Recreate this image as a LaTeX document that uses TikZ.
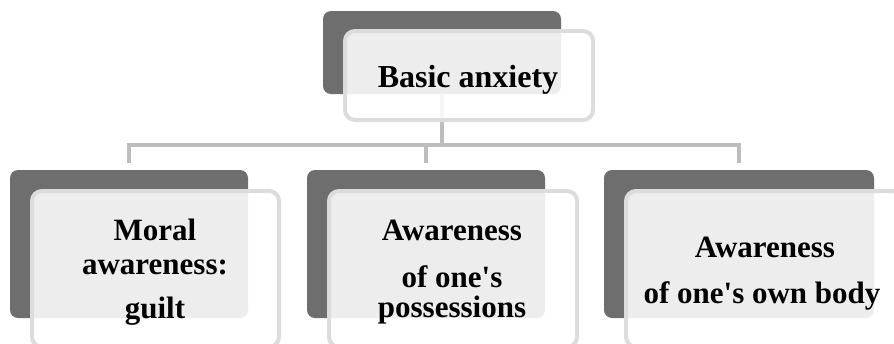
\documentclass[tikz,border=0pt]{standalone}
\usepackage{fontspec}
\setmainfont{Liberation Serif}
\definecolor{darkbox}{HTML}{6E6E6E}
\definecolor{connc}{HTML}{BDBDBD}
\definecolor{lightedge}{HTML}{DCDCDC}
\begin{document}
\begin{tikzpicture}[x=1pt,y=-1pt,
  darkbg/.style={rectangle, rounded corners=8pt, fill=darkbox, draw=none, inner sep=0pt, minimum width=#1},
  lightfg/.style={rectangle, rounded corners=10pt, fill=white, fill opacity=0.88, draw=lightedge, draw opacity=1, line width=4pt, inner sep=0pt, minimum width=#1},
  conn/.style={draw=connc, line width=4pt},
  txt/.style={font=\fontsize{32}{34}\selectfont\bfseries, inner sep=0pt, anchor=base, text=black},
  btxt/.style={txt, font=\fontsize{31}{33}\selectfont\bfseries}]
\useasboundingbox (0,0) rectangle (894,343);
% dark boxes
\node[darkbg=238pt, minimum height=83pt] (td) at (442,52.5) {};
\node[darkbg=238pt, minimum height=148pt] (d1) at (129,244) {};
\node[darkbg=238pt, minimum height=148pt] (d2) at (426,244) {};
\node[darkbg=270pt, minimum height=148pt] (d3) at (739,244) {};
% connectors
\coordinate (bus) at (0,145);
\draw[conn] (td.south) -- (td.south |- bus);
\draw[conn] (td.south |- bus) -| ([yshift=7pt]d1.north);
\draw[conn] (td.south |- bus) -| ([yshift=7pt]d3.north);
\draw[conn] (d2.north |- bus) -- ([yshift=7pt]d2.north);
% light boxes
\node[lightfg=248pt, minimum height=89pt] (tl) at (469,75.5) {};
\node[lightfg=247pt, minimum height=156pt] (l1) at (155.5,269) {};
\node[lightfg=248pt, minimum height=156pt] (l2) at (453,269) {};
\node[lightfg=276pt, minimum height=156pt] (l3) at (764,269) {};
% texts
\node[txt] (t0) at (468,87.5) {Basic anxiety};
\node[btxt] (t1a) at (155,240.5) {Moral};
\node[btxt] (t1b) at (155,274) {awareness:};
\node[btxt] (t1c) at (155,318) {guilt};
\node[btxt] (t2a) at (452,240.5) {Awareness};
\node[btxt] (t2b) at (452,287) {of one\textquotesingle s};
\node[btxt] (t2c) at (452,317) {possessions};
\node[btxt] (t3a) at (765,257) {Awareness};
\node[btxt] (t3b) at (762,303) {of one\textquotesingle s own body};
\end{tikzpicture}
\end{document}
